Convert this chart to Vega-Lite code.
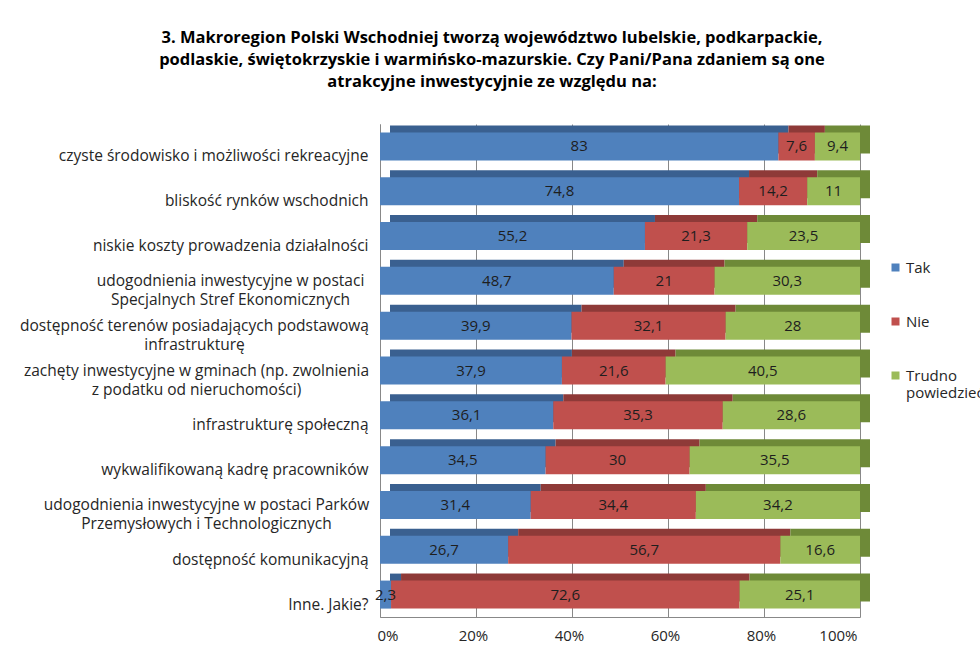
{
  "$schema": "https://vega.github.io/schema/vega-lite/v6.json",
  "autosize": "none",
  "width": 480,
  "height": 493,
  "padding": {"left": 380, "top": 124, "right": 120, "bottom": 45},
  "background": "white",
  "config": {
    "font": "Open Sans",
    "view": {"stroke": null}
  },
  "title": {
    "text": ["3. Makroregion Polski Wschodniej tworzą województwo lubelskie, podkarpackie,", "podlaskie, świętokrzyskie i warmińsko-mazurskie. Czy Pani/Pana zdaniem są one", "atrakcyjne inwestycyjnie ze względu na:"],
    "font": "Open Sans",
    "fontSize": 16.5,
    "fontWeight": "bold",
    "color": "#000000",
    "lineHeight": 22,
    "anchor": "middle",
    "frame": "group",
    "dx": -128,
    "offset": 34
  },
  "data": {
    "values": [
      {"cat": "czyste środowisko i możliwości rekreacyjne", "answer": "Tak", "ord": 1, "value": 83},
      {"cat": "czyste środowisko i możliwości rekreacyjne", "answer": "Nie", "ord": 2, "value": 7.6},
      {"cat": "czyste środowisko i możliwości rekreacyjne", "answer": "Trudno powiedzieć", "ord": 3, "value": 9.4},
      {"cat": "bliskość rynków wschodnich", "answer": "Tak", "ord": 1, "value": 74.8},
      {"cat": "bliskość rynków wschodnich", "answer": "Nie", "ord": 2, "value": 14.2},
      {"cat": "bliskość rynków wschodnich", "answer": "Trudno powiedzieć", "ord": 3, "value": 11},
      {"cat": "niskie koszty prowadzenia działalności", "answer": "Tak", "ord": 1, "value": 55.2},
      {"cat": "niskie koszty prowadzenia działalności", "answer": "Nie", "ord": 2, "value": 21.3},
      {"cat": "niskie koszty prowadzenia działalności", "answer": "Trudno powiedzieć", "ord": 3, "value": 23.5},
      {"cat": "udogodnienia inwestycyjne w postaci|Specjalnych Stref Ekonomicznych", "answer": "Tak", "ord": 1, "value": 48.7},
      {"cat": "udogodnienia inwestycyjne w postaci|Specjalnych Stref Ekonomicznych", "answer": "Nie", "ord": 2, "value": 21},
      {"cat": "udogodnienia inwestycyjne w postaci|Specjalnych Stref Ekonomicznych", "answer": "Trudno powiedzieć", "ord": 3, "value": 30.3},
      {"cat": "dostępność terenów posiadających  podstawową|infrastrukturę", "answer": "Tak", "ord": 1, "value": 39.9},
      {"cat": "dostępność terenów posiadających  podstawową|infrastrukturę", "answer": "Nie", "ord": 2, "value": 32.1},
      {"cat": "dostępność terenów posiadających  podstawową|infrastrukturę", "answer": "Trudno powiedzieć", "ord": 3, "value": 28},
      {"cat": "zachęty inwestycyjne w gminach (np. zwolnienia|z podatku od nieruchomości)", "answer": "Tak", "ord": 1, "value": 37.9},
      {"cat": "zachęty inwestycyjne w gminach (np. zwolnienia|z podatku od nieruchomości)", "answer": "Nie", "ord": 2, "value": 21.6},
      {"cat": "zachęty inwestycyjne w gminach (np. zwolnienia|z podatku od nieruchomości)", "answer": "Trudno powiedzieć", "ord": 3, "value": 40.5},
      {"cat": "infrastrukturę społeczną", "answer": "Tak", "ord": 1, "value": 36.1},
      {"cat": "infrastrukturę społeczną", "answer": "Nie", "ord": 2, "value": 35.3},
      {"cat": "infrastrukturę społeczną", "answer": "Trudno powiedzieć", "ord": 3, "value": 28.6},
      {"cat": "wykwalifikowaną kadrę pracowników", "answer": "Tak", "ord": 1, "value": 34.5},
      {"cat": "wykwalifikowaną kadrę pracowników", "answer": "Nie", "ord": 2, "value": 30},
      {"cat": "wykwalifikowaną kadrę pracowników", "answer": "Trudno powiedzieć", "ord": 3, "value": 35.5},
      {"cat": "udogodnienia inwestycyjne w postaci Parków|Przemysłowych i Technologicznych", "answer": "Tak", "ord": 1, "value": 31.4},
      {"cat": "udogodnienia inwestycyjne w postaci Parków|Przemysłowych i Technologicznych", "answer": "Nie", "ord": 2, "value": 34.4},
      {"cat": "udogodnienia inwestycyjne w postaci Parków|Przemysłowych i Technologicznych", "answer": "Trudno powiedzieć", "ord": 3, "value": 34.2},
      {"cat": "dostępność komunikacyjną", "answer": "Tak", "ord": 1, "value": 26.7},
      {"cat": "dostępność komunikacyjną", "answer": "Nie", "ord": 2, "value": 56.7},
      {"cat": "dostępność komunikacyjną", "answer": "Trudno powiedzieć", "ord": 3, "value": 16.6},
      {"cat": "Inne. Jakie?", "answer": "Tak", "ord": 1, "value": 2.3},
      {"cat": "Inne. Jakie?", "answer": "Nie", "ord": 2, "value": 72.6},
      {"cat": "Inne. Jakie?", "answer": "Trudno powiedzieć", "ord": 3, "value": 25.1}
    ]
  },
  "transform": [
    {"stack": "value", "groupby": ["cat"], "sort": [{"field": "ord", "order": "ascending"}], "as": ["x0", "x1"]},
    {"calculate": "(datum.x0 + datum.x1) / 2", "as": "xmid"},
    {"calculate": "replace(toString(datum.value), '.', ',')", "as": "lbl"}
  ],
  "encoding": {
    "y": {
      "field": "cat",
      "type": "nominal",
      "sort": null,
      "scale": {"paddingInner": 0.375, "paddingOuter": 0.1875},
      "axis": {
        "title": null,
        "labelExpr": "split(datum.label, '|')",
        "labelFont": "Open Sans",
        "labelFontSize": 15.5,
        "labelColor": "#262626",
        "labelLimit": 400,
        "labelLineHeight": 19,
        "labelAlign": {"condition": {"test": "indexof(datum.label, '|') >= 0", "value": "center"}, "value": "right"},
        "labelPadding": {"condition": [
          {"test": "indexof(datum.label, 'Specjalnych') >= 0", "value": 150},
          {"test": "indexof(datum.label, 'terenów') >= 0", "value": 186},
          {"test": "indexof(datum.label, 'zachęty') >= 0", "value": 184},
          {"test": "indexof(datum.label, 'Parków') >= 0", "value": 174}
        ], "value": 12},
        "labelOffset": {"condition": {"test": "indexof(datum.label, '|') >= 0", "value": 0}, "value": 10},
        "ticks": false,
        "domain": true,
        "domainColor": "#888888",
        "grid": false
      }
    }
  },
  "layer": [
    {
      "mark": {"type": "bar", "xOffset": 10, "x2Offset": 10, "yOffset": -7, "y2Offset": -7},
      "encoding": {
        "x": {"field": "x0", "type": "quantitative"},
        "x2": {"field": "x1"},
        "color": {
          "field": "answer",
          "type": "nominal",
          "sort": ["Tak", "Nie", "Trudno powiedzieć"],
          "scale": {"domain": ["Tak", "Nie", "Trudno powiedzieć"], "range": ["#3A6090", "#8E3A38", "#6E8A38"]},
          "legend": null
        }
      }
    },
    {
      "mark": {"type": "bar"},
      "encoding": {
        "x": {
          "field": "x0",
          "type": "quantitative",
          "scale": {"domain": [0, 100], "nice": false},
          "axis": {
            "title": null,
            "values": [0, 20, 40, 60, 80, 100],
            "labelExpr": "datum.value + '%'",
            "labelFont": "Open Sans",
            "labelFontSize": 15,
            "labelColor": "#262626",
            "labelPadding": 11,
            "labelOffset": -3,
            "ticks": false,
            "domainColor": "#888888",
            "grid": true,
            "gridColor": "#888888",
            "gridWidth": 1
          }
        },
        "x2": {"field": "x1"},
        "color": {
          "field": "answer",
          "type": "nominal",
          "sort": ["Tak", "Nie", "Trudno powiedzieć"],
          "scale": {"domain": ["Tak", "Nie", "Trudno powiedzieć"], "range": ["#4F81BD", "#C0504D", "#9BBB59"]},
          "legend": {
            "title": null,
            "orient": "none",
            "legendX": 508,
            "legendY": 136,
            "symbolType": "square",
            "symbolSize": 64,
            "symbolStrokeWidth": 0,
            "labelFont": "Open Sans",
            "labelFontSize": 15,
            "labelColor": "#262626",
            "labelLineHeight": 17,
            "labelLimit": 200,
            "labelExpr": "datum.label == 'Trudno powiedzieć' ? ['Trudno', 'powiedzieć'] : datum.label",
            "rowPadding": 38,
            "labelOffset": 3
          }
        }
      }
    },
    {
      "mark": {"type": "text", "fontSize": 15, "font": "Open Sans", "color": "#1E1E1E"},
      "encoding": {
        "x": {"field": "xmid", "type": "quantitative"},
        "text": {"field": "lbl", "type": "nominal"}
      }
    }
  ],
  "resolve": {"scale": {"color": "independent"}}
}
